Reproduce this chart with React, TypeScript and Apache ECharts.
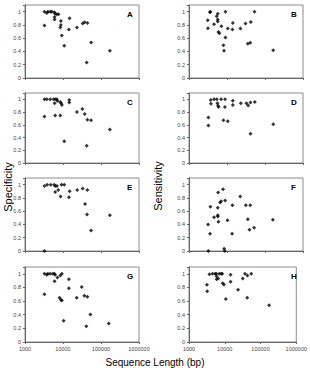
import React, { useEffect, useRef } from "react";
import * as echarts from "echarts";

const panelLetters = ["A", "B", "C", "D", "E", "F", "G", "H"];
const xTickLabels = ["1000", "10000", "100000", "1000000"];
const yTickValues = [0, 0.2, 0.4, 0.6, 0.8, 1];

const xA = [3250, 3250, 3750, 4000, 4600, 5100, 5900, 6000, 6000, 6200, 6900, 7600, 8500, 8800, 8800, 9300, 10800, 14300, 14900, 23300, 33000, 37000, 42000, 44000, 55000, 171000];
const yA = [1.0, 0.79, 0.98, 1.0, 1.0, 1.0, 0.99, 0.92, 0.88, 0.97, 0.96, 0.96, 0.76, 0.86, 0.8, 0.64, 0.485, 0.73, 0.9, 0.76, 0.82, 0.84, 0.235, 0.83, 0.535, 0.41];

const xB = [3110, 3150, 3550, 3650, 4560, 5360, 5700, 5700, 5700, 5950, 6300, 7130, 8050, 8350, 9080, 9080, 10500, 13900, 14200, 22600, 30700, 35300, 40900, 42400, 53000, 164000];
const yB = [0.87, 0.75, 0.99, 1.0, 0.81, 0.93, 0.97, 0.88, 0.85, 0.695, 0.675, 0.78, 0.495, 0.41, 0.61, 1.0, 0.745, 0.73, 0.83, 0.745, 0.82, 0.515, 0.53, 0.845, 1.0, 0.42];

const xC = [3250, 3250, 3750, 4600, 5640, 6000, 6230, 6230, 6890, 7150, 8450, 8450, 8950, 9350, 10800, 14600, 14600, 23300, 32300, 37200, 42000, 43800, 54800, 171000];
const yC = [1.0, 0.73, 1.0, 1.0, 1.0, 0.94, 1.0, 0.745, 1.0, 0.975, 0.96, 0.745, 0.94, 0.91, 0.34, 0.99, 0.95, 0.8, 0.85, 0.77, 0.27, 0.68, 0.67, 0.525];

const xD = [3230, 3230, 3730, 3780, 4560, 5400, 5600, 5800, 6000, 7000, 8060, 8900, 8800, 10500, 14200, 14200, 23100, 32500, 36000, 41500, 41500, 54000, 165000];
const yD = [0.715, 0.59, 0.99, 0.93, 1.0, 1.0, 0.94, 0.9, 0.88, 1.0, 0.67, 1.0, 0.88, 0.655, 0.98, 0.91, 0.94, 0.94, 0.905, 0.95, 0.46, 0.96, 0.61];

const xE = [3250, 3250, 3830, 4760, 5860, 6230, 6230, 6890, 7490, 8620, 9160, 10800, 14330, 14920, 23750, 32960, 38000, 42800, 43840, 54800, 171000];
const yE = [0.98, 0.0, 1.0, 1.0, 1.0, 0.98, 0.89, 0.98, 0.92, 0.82, 1.0, 1.0, 0.81, 0.9, 0.92, 0.94, 0.71, 0.55, 0.92, 0.31, 0.54];

const xF = [3180, 3230, 3580, 3650, 4560, 5700, 5700, 5750, 5830, 5950, 6560, 7000, 7890, 8400, 8740, 8930, 10300, 13600, 13900, 22200, 31300, 35300, 39000, 40900, 51800, 161000];
const yF = [0.4, 0.0, 0.26, 0.665, 0.51, 0.65, 0.54, 0.52, 0.88, 0.44, 0.73, 0.75, 0.93, 0.035, 0.0, 0.76, 0.465, 0.26, 0.69, 0.82, 0.69, 0.48, 0.32, 0.69, 0.35, 0.47];

const xG = [3250, 3250, 3750, 4000, 4600, 5400, 5900, 6000, 6200, 7150, 8100, 8450, 8800, 9350, 9350, 10400, 14300, 14300, 22900, 31000, 36400, 41000, 43800, 52500, 160000];
const yG = [1.0, 0.7, 0.985, 1.0, 1.0, 1.0, 1.0, 0.89, 0.985, 0.945, 0.65, 0.975, 0.62, 1.0, 0.61, 0.31, 0.92, 0.79, 0.65, 0.805, 0.68, 0.23, 0.665, 0.405, 0.27];

const xH = [3170, 3230, 3730, 4560, 5400, 5800, 5900, 5950, 6560, 7000, 7900, 8500, 8740, 9500, 10700, 14500, 14500, 23500, 31800, 36800, 42300, 43100, 55000, 174000];
const yH = [0.84, 0.745, 0.995, 1.0, 1.0, 1.0, 0.965, 0.92, 0.93, 1.0, 1.0, 1.0, 0.86, 0.845, 0.63, 0.985, 0.885, 0.765, 0.93, 1.0, 0.65, 0.975, 1.0, 0.54];

const panelX = [xA, xB, xC, xD, xE, xF, xG, xH];
const panelY = [yA, yB, yC, yD, yE, yF, yG, yH];

const FONT = "'Liberation Sans', Arial, sans-serif";

export default function App() {
  const ref = useRef<HTMLDivElement>(null);

  useEffect(() => {
    document.body.style.margin = "0";
    if (!ref.current) return;
    const chart = echarts.init(ref.current, null, { renderer: "svg" });

    const colLeft = [25, 189];
    const colWidth = 114;
    const rowTop = [5, 93, 178, 267];
    const rowHeight = [73, 70, 73, 75];

    const grids: any[] = [];
    const xAxes: any[] = [];
    const yAxes: any[] = [];
    const series: any[] = [];
    const graphics: any[] = [];

    for (let i = 0; i < 8; i++) {
      const col = i % 2;
      const row = Math.floor(i / 2);
      const bottomRow = row === 3;
      grids.push({
        left: colLeft[col],
        top: rowTop[row],
        width: colWidth,
        height: rowHeight[row],
        show: true,
        borderColor: "#8c8c8c",
        borderWidth: 1,
        backgroundColor: "transparent",
      });
      xAxes.push({
        type: "log",
        logBase: 10,
        gridIndex: i,
        min: 1000,
        max: 1000000,
        axisLine: { show: true, lineStyle: { color: "#666", width: 1 } },
        axisTick: { show: true, length: 2, lineStyle: { color: "#666" } },
        splitLine: { show: false },
        axisLabel: {
          show: bottomRow,
          fontSize: 5.5,
          color: "#444",
          fontFamily: FONT,
          margin: 4,
          formatter: (v: number) => {
            const idx = Math.round(Math.log10(v)) - 3;
            return xTickLabels[idx] ?? "";
          },
        },
      });
      yAxes.push({
        type: "value",
        gridIndex: i,
        min: 0,
        max: 1.1,
        interval: 0.2,
        axisLine: { show: true, lineStyle: { color: "#666", width: 1 } },
        axisTick: { show: true, length: 2, lineStyle: { color: "#666" } },
        splitLine: { show: false },
        axisLabel: {
          fontSize: 5.5,
          color: "#444",
          fontFamily: FONT,
          margin: 4,
          formatter: (v: number) => {
            const r = Math.round(v * 10) / 10;
            return yTickValues.includes(r) && v < 1.05 ? String(r) : "";
          },
        },
      });
      series.push({
        type: "scatter",
        xAxisIndex: i,
        yAxisIndex: i,
        symbol: "diamond",
        symbolSize: 4,
        itemStyle: { color: "#000" },
        data: panelX[i].map((x, k) => [x, panelY[i][k]]),
      });
      graphics.push({
        type: "text",
        left: colLeft[col] + colWidth - 12,
        top: rowTop[row] + 5,
        style: {
          text: panelLetters[i],
          font: `bold 8px ${FONT}`,
          fill: "#000",
        },
      });
    }

    graphics.push({
      type: "text",
      x: 8,
      y: 187,
      rotation: Math.PI / 2,
      style: {
        text: "Specificity",
        font: `11px ${FONT}`,
        fill: "#000",
        align: "center",
        verticalAlign: "middle",
      },
    });
    graphics.push({
      type: "text",
      x: 158,
      y: 186,
      rotation: Math.PI / 2,
      style: {
        text: "Sensitivity",
        font: `11px ${FONT}`,
        fill: "#000",
        align: "center",
        verticalAlign: "middle",
      },
    });
    graphics.push({
      type: "text",
      x: 155,
      y: 362,
      style: {
        text: "Sequence Length (bp)",
        font: `10px ${FONT}`,
        fill: "#000",
        align: "center",
        verticalAlign: "middle",
      },
    });

    chart.setOption({
      animation: false,
      backgroundColor: "#fff",
      grid: grids,
      xAxis: xAxes,
      yAxis: yAxes,
      series,
      graphic: graphics,
    });

    return () => chart.dispose();
  }, []);

  return <div ref={ref} style={{ width: 310, height: 368 }} />;
}
